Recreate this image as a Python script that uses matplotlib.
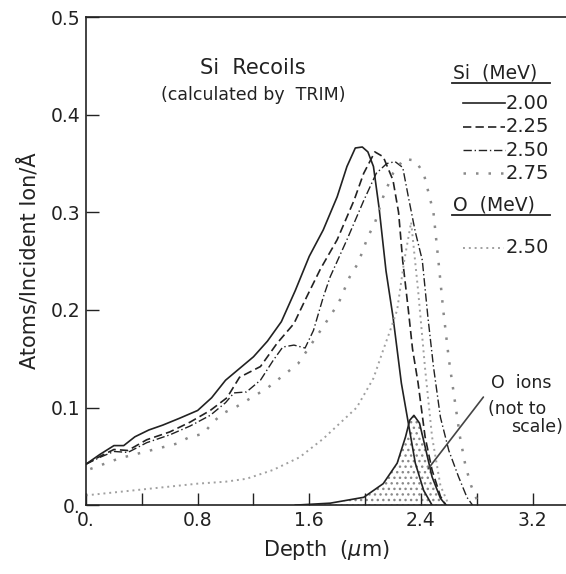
import matplotlib
matplotlib.use("Agg")
import matplotlib.pyplot as plt
import numpy as np

# Si recoil depth profiles (depth in um, atoms/incident ion/A)
depth_200 = [0.0, 0.1, 0.2, 0.27, 0.35, 0.45, 0.55, 0.67, 0.8, 0.9, 1.0, 1.1, 1.2, 1.3,
             1.4, 1.5, 1.6, 1.7, 1.8, 1.87, 1.93, 1.98, 2.02, 2.06, 2.1, 2.15, 2.2,
             2.26, 2.31, 2.36, 2.42, 2.48]
si_200 = [0.042, 0.052, 0.061, 0.061, 0.070, 0.077, 0.082, 0.089, 0.097, 0.110, 0.128,
          0.140, 0.152, 0.168, 0.188, 0.220, 0.255, 0.282, 0.316, 0.347, 0.366, 0.367,
          0.362, 0.347, 0.305, 0.240, 0.193, 0.125, 0.084, 0.043, 0.015, 0.0]

depth_225 = [0.0, 0.1, 0.2, 0.3, 0.435, 0.6, 0.745, 0.89, 1.01, 1.1, 1.25, 1.37, 1.49,
             1.58, 1.68, 1.8, 1.92, 1.99, 2.07, 2.13, 2.2, 2.24, 2.27, 2.31, 2.34, 2.38,
             2.43, 2.48, 2.54, 2.58]
si_225 = [0.042, 0.050, 0.057, 0.056, 0.067, 0.075, 0.085, 0.097, 0.110, 0.131, 0.142,
          0.166, 0.186, 0.213, 0.242, 0.272, 0.312, 0.340, 0.362, 0.357, 0.333, 0.300,
          0.250, 0.200, 0.160, 0.125, 0.070, 0.036, 0.009, 0.0]

depth_250 = [0.0, 0.1, 0.2, 0.3, 0.435, 0.6, 0.745, 0.89, 1.0, 1.06, 1.15, 1.25, 1.34,
             1.41, 1.49, 1.57, 1.63, 1.70, 1.75, 1.87, 1.99, 2.08, 2.155, 2.215, 2.27,
             2.31, 2.36, 2.41, 2.45, 2.49, 2.54, 2.6, 2.67, 2.73, 2.77]
si_250 = [0.042, 0.049, 0.055, 0.054, 0.064, 0.072, 0.081, 0.092, 0.105, 0.115, 0.116,
          0.128, 0.148, 0.162, 0.164, 0.161, 0.179, 0.213, 0.234, 0.272, 0.312, 0.340,
          0.350, 0.352, 0.346, 0.316, 0.280, 0.251, 0.193, 0.142, 0.090, 0.056, 0.029,
          0.008, 0.0]

depth_275 = [0.03, 0.24, 0.46, 0.65, 0.745, 0.84, 0.91, 0.98, 1.08, 1.3, 1.52, 1.70,
             1.81, 1.89, 1.95, 2.02, 2.07, 2.13, 2.2, 2.28, 2.36, 2.42, 2.49, 2.53, 2.56,
             2.6, 2.64, 2.68, 2.72, 2.76, 2.8, 2.83]
si_275 = [0.037, 0.048, 0.056, 0.063, 0.070, 0.073, 0.085, 0.094, 0.101, 0.120, 0.145,
          0.183, 0.207, 0.234, 0.248, 0.275, 0.289, 0.316, 0.340, 0.355, 0.353, 0.340,
          0.300, 0.244, 0.200, 0.150, 0.110, 0.070, 0.040, 0.020, 0.006, 0.0]

# Si recoils from 2.50 MeV O ions
depth_o = [0.0, 0.2, 0.4, 0.6, 0.8, 1.0, 1.15, 1.34, 1.53, 1.7, 1.82, 1.94, 2.06, 2.13,
           2.18, 2.23, 2.28, 2.33, 2.38, 2.43, 2.48, 2.54, 2.6]
si_o = [0.010, 0.013, 0.016, 0.019, 0.022, 0.024, 0.027, 0.036, 0.049, 0.068, 0.084,
        0.100, 0.130, 0.159, 0.179, 0.200, 0.250, 0.290, 0.220, 0.140, 0.070, 0.020, 0.0]

# O ion distribution (not to scale)
depth_ion = [1.5, 1.75, 1.99, 2.13, 2.23, 2.29, 2.32, 2.35, 2.39, 2.43, 2.48, 2.54, 2.58]
o_ion = [0.0, 0.002, 0.008, 0.022, 0.043, 0.070, 0.087, 0.092, 0.084, 0.060, 0.029,
         0.007, 0.0]

x_ticks = [0.0, 0.4, 0.8, 1.2, 1.6, 2.0, 2.4, 2.8, 3.2]
x_labels = ["0.", "", "0.8", "", "1.6", "", "2.4", "", "3.2"]
y_ticks = [0.0, 0.1, 0.2, 0.3, 0.4, 0.5]
y_labels = ["0.", "0.1", "0.2", "0.3", "0.4", "0.5"]

si_energies = ["2.00", "2.25", "2.50", "2.75"]
o_energies = ["2.50"]

ink = "#222222"
plt.rcParams["font.family"] = "DejaVu Sans"
plt.rcParams["hatch.linewidth"] = 1.0

fig = plt.figure(figsize=(5.66, 5.74), dpi=100)
ax = fig.add_axes([0.152, 0.120, 0.848, 0.850])

styles = [
    dict(linestyle="-", color=ink, lw=1.2),
    dict(linestyle=(0, (5, 2.5)), color=ink, lw=1.2),
    dict(linestyle=(0, (6, 2, 1, 2)), color=ink, lw=1.0),
    dict(linestyle=(0, (1, 4)), color="#8a8a8a", lw=1.8),
]
series = [(depth_200, si_200), (depth_225, si_225), (depth_250, si_250), (depth_275, si_275)]
for (d, s), st in zip(series, styles):
    ax.plot(d, s, **st)

o_style = dict(linestyle=(0, (1, 2)), color="#a0a0a0", lw=1.4)
ax.plot(depth_o, si_o, **o_style)

ax.fill_between(depth_ion, o_ion, facecolor="none", edgecolor="#8a8a8a",
                hatch="...", linewidth=0)
ax.plot(depth_ion, o_ion, color=ink, lw=1.2)

ax.annotate("", xy=(2.44, 0.035), xytext=(2.86, 0.113),
            arrowprops=dict(arrowstyle="-", color="#444444", lw=1.2))
ax.text(2.90, 0.125, "O  ions", fontsize=12.5, color=ink, va="center", ha="left")
ax.text(2.88, 0.099, "(not to", fontsize=12.5, color=ink, va="center", ha="left")
ax.text(3.42, 0.080, "scale)", fontsize=12.5, color=ink, va="center", ha="right")

ax.text(0.348, 0.895, "Si  Recoils", transform=ax.transAxes, fontsize=15,
        color=ink, ha="center", va="center")
ax.text(0.348, 0.840, "(calculated by  TRIM)", transform=ax.transAxes, fontsize=12.5,
        color=ink, ha="center", va="center")

# legend, drawn in axes fraction
ax.text(0.765, 0.885, "Si  (MeV)", transform=ax.transAxes, fontsize=13.5,
        color=ink, ha="left", va="center")
ax.plot([0.7625, 0.967], [0.865, 0.865], transform=ax.transAxes, color=ink, lw=1.3)
legend_y = [0.824, 0.775, 0.727, 0.680]
for lab, st, yy in zip(si_energies, styles, legend_y):
    ax.plot([0.785, 0.873], [yy, yy], transform=ax.transAxes, **st)
    ax.text(0.875, yy, lab, transform=ax.transAxes, fontsize=14, color=ink,
            ha="left", va="center")
ax.text(0.765, 0.615, "O  (MeV)", transform=ax.transAxes, fontsize=13.5,
        color=ink, ha="left", va="center")
ax.plot([0.7625, 0.967], [0.594, 0.594], transform=ax.transAxes, color=ink, lw=1.3)
for lab in o_energies:
    ax.plot([0.785, 0.870], [0.527, 0.527], transform=ax.transAxes, **o_style)
    ax.text(0.875, 0.527, lab, transform=ax.transAxes, fontsize=14, color=ink,
            ha="left", va="center")

ax.set_xlim(0, 3.44)
ax.set_ylim(0, 0.5)
ax.set_xticks(x_ticks)
ax.set_xticklabels(x_labels)
ax.set_yticks(y_ticks)
ax.set_yticklabels(y_labels)
ax.tick_params(direction="in", length=9, width=1.0, labelsize=13.5, colors=ink, pad=4)
ax.spines["right"].set_visible(False)
for sp in ["left", "bottom", "top"]:
    ax.spines[sp].set_linewidth(1.2)
    ax.spines[sp].set_color(ink)

ax.set_xlabel("Depth  ($\\mu$m)", fontsize=15, color=ink, labelpad=6)
ax.set_ylabel("Atoms/Incident Ion/Å", fontsize=15, color=ink, labelpad=8)

fig.savefig("out.png", dpi=100)
